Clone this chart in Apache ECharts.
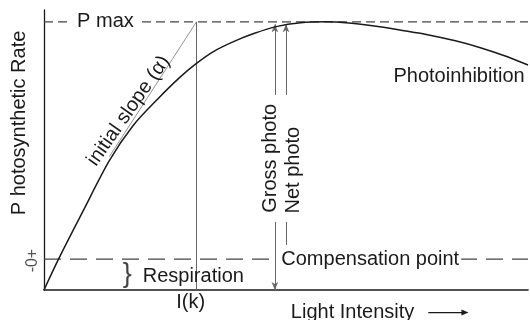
<!DOCTYPE html>
<html>
<head>
<meta charset="utf-8">
<script src="https://cdn.jsdelivr.net/npm/echarts@6/dist/echarts.min.js"></script>
<style>
html, body { margin: 0; padding: 0; background: #fff; }
#chart { width: 530px; height: 320px; }
</style>
</head>
<body>
<div id="chart"></div>
<script>
// light intensity (0-100) and net photosynthetic rate (compensation = 0, Pmax = 100)
var lightLevels = [0, 3, 8, 13.5, 18.5, 23.5, 28, 31.5, 35, 39.5, 43.5, 48, 53, 58, 63, 69, 74, 79.5, 85, 90, 95, 100];
var netRate     = [-13, 0, 20, 41.5, 56.5, 67.5, 76.5, 82.5, 87.5, 92, 95.2, 98, 99.6, 100, 99.5, 98, 96.4, 94.5, 92, 89.2, 85.8, 81.8];

var pMax = 100;          // P max level
var compensation = 0;    // compensation point level
var respiration = -13;   // dark respiration (below compensation)
var iK = 31.5;           // I(k)
var slopeStart = [13.5, 43.2];  // where the initial slope line leaves the curve
var grossX = 47.7, netX = 50;   // gross / net photo arrows
var arrowTop = 99, arrowLow = 69.2, arrowBottom = 15.7, netLineEnd = 6;

var font = 'Liberation Sans, Arial, sans-serif';
var ink = '#1a1a1a';

var curvePoints = lightLevels.map(function (x, i) { return [x, netRate[i]]; });

var chart = echarts.init(document.getElementById('chart'), null, { renderer: 'canvas' });

function arrowLine(x, y0, y1, head) {
    return [
        { coord: [x, y0], symbol: 'none' },
        { coord: [x, y1], symbol: head ? 'arrow' : 'none', symbolSize: [5, 8] }
    ];
}

function levelLine(name, level, dash) {
    return {
        name: name,
        type: 'line',
        data: [[0, level], [100, level]],
        showSymbol: false,
        silent: true,
        lineStyle: { color: '#444', width: 1.3, type: dash },
        z: 3
    };
}

chart.setOption({
    animation: false,
    grid: { left: 44, right: 2, top: 10, bottom: 30 },
    xAxis: {
        type: 'value', min: 0, max: 100,
        axisLine: { show: true, onZero: false, lineStyle: { color: ink, width: 1.6 } },
        axisTick: { show: false }, axisLabel: { show: false }, splitLine: { show: false }
    },
    yAxis: {
        type: 'value', min: respiration, max: 105,
        axisLine: { show: true, onZero: false, lineStyle: { color: ink, width: 1.3 } },
        axisTick: { show: false }, axisLabel: { show: false }, splitLine: { show: false }
    },
    series: [
        levelLine('P max', pMax, [9, 5]),
        levelLine('Compensation point', compensation, [17, 9]),
        {
            name: 'P-I curve',
            type: 'line',
            data: curvePoints,
            smooth: 0.3,
            showSymbol: false,
            clip: false,
            lineStyle: { color: ink, width: 1.5 },
            z: 5,
            markLine: {
                silent: true,
                symbol: ['none', 'none'],
                label: { show: false },
                lineStyle: { type: 'solid', color: '#666', width: 1 },
                data: [
                    // I(k)
                    [{ coord: [iK, respiration] }, { coord: [iK, pMax] }],
                    // gross / net photosynthesis arrows
                    arrowLine(grossX, arrowLow, arrowTop, true),
                    arrowLine(netX, arrowLow, arrowTop, true),
                    arrowLine(grossX, arrowBottom, respiration, true),
                    arrowLine(netX, arrowBottom, netLineEnd, false)
                ]
            }
        },
        {
            name: 'initial slope',
            type: 'line',
            data: [slopeStart, [iK, pMax]],
            showSymbol: false,
            lineStyle: { color: '#777', width: 0.8 },
            z: 4
        }
    ]
});

function at(x, y) {
    return chart.convertToPixel({ gridIndex: 0 }, [x, y]);
}

function text(str, x, y, opt) {
    opt = opt || {};
    var p = at(x, y);
    return {
        type: 'text',
        x: p[0], y: p[1],
        rotation: (opt.rotate || 0) * Math.PI / 180,
        z: opt.z || 10,
        style: {
            text: str,
            fontFamily: font,
            fontSize: opt.size || 20,
            fill: opt.color || ink,
            align: opt.align || 'left',
            verticalAlign: 'middle',
            backgroundColor: opt.bg,
            padding: opt.padding
        }
    };
}

var a0 = at(79.4, -22.5), a1 = at(87.7, -22.5);

chart.setOption({
    graphic: [
        text('P max', 5.8, pMax, { bg: '#fff', padding: [0, 5, 0, 5] }),
        text('Photoinhibition', 72.2, 76.8),
        text('Compensation point', 48.2, compensation, { bg: '#fff', padding: [0, 2, 0, 4], z: 4 }),
        text('Respiration', 20.4, -7.5),
        text('}', 17.2, -6.5, { size: 27, color: '#444', align: 'center' }),
        text('I(k)', 30.3, -18.1, { align: 'center' }),
        text('Light Intensity', 51, -22.3),
        text('initial slope (\u03b1)', 17.5, 62.5, { rotate: 55, align: 'center' }),
        text('Gross photo', 46.8, 42.5, { rotate: 90, align: 'center' }),
        text('Net photo', 51.5, 37.5, { rotate: 90, align: 'center' }),
        text('P hotosynthetic Rate', -5, 57.4, { rotate: 90, align: 'center' }),
        text('-0+', -2.4, -0.6, { rotate: 90, align: 'center', size: 16, color: '#555' }),
        {
            type: 'line',
            shape: { x1: a0[0], y1: a0[1], x2: a1[0] - 5, y2: a1[1] },
            style: { stroke: ink, lineWidth: 1.2 }
        },
        {
            type: 'polygon',
            shape: { points: [[a1[0], a1[1]], [a1[0] - 7, a1[1] - 3], [a1[0] - 7, a1[1] + 3]] },
            style: { fill: ink }
        }
    ]
});
</script>
</body>
</html>
